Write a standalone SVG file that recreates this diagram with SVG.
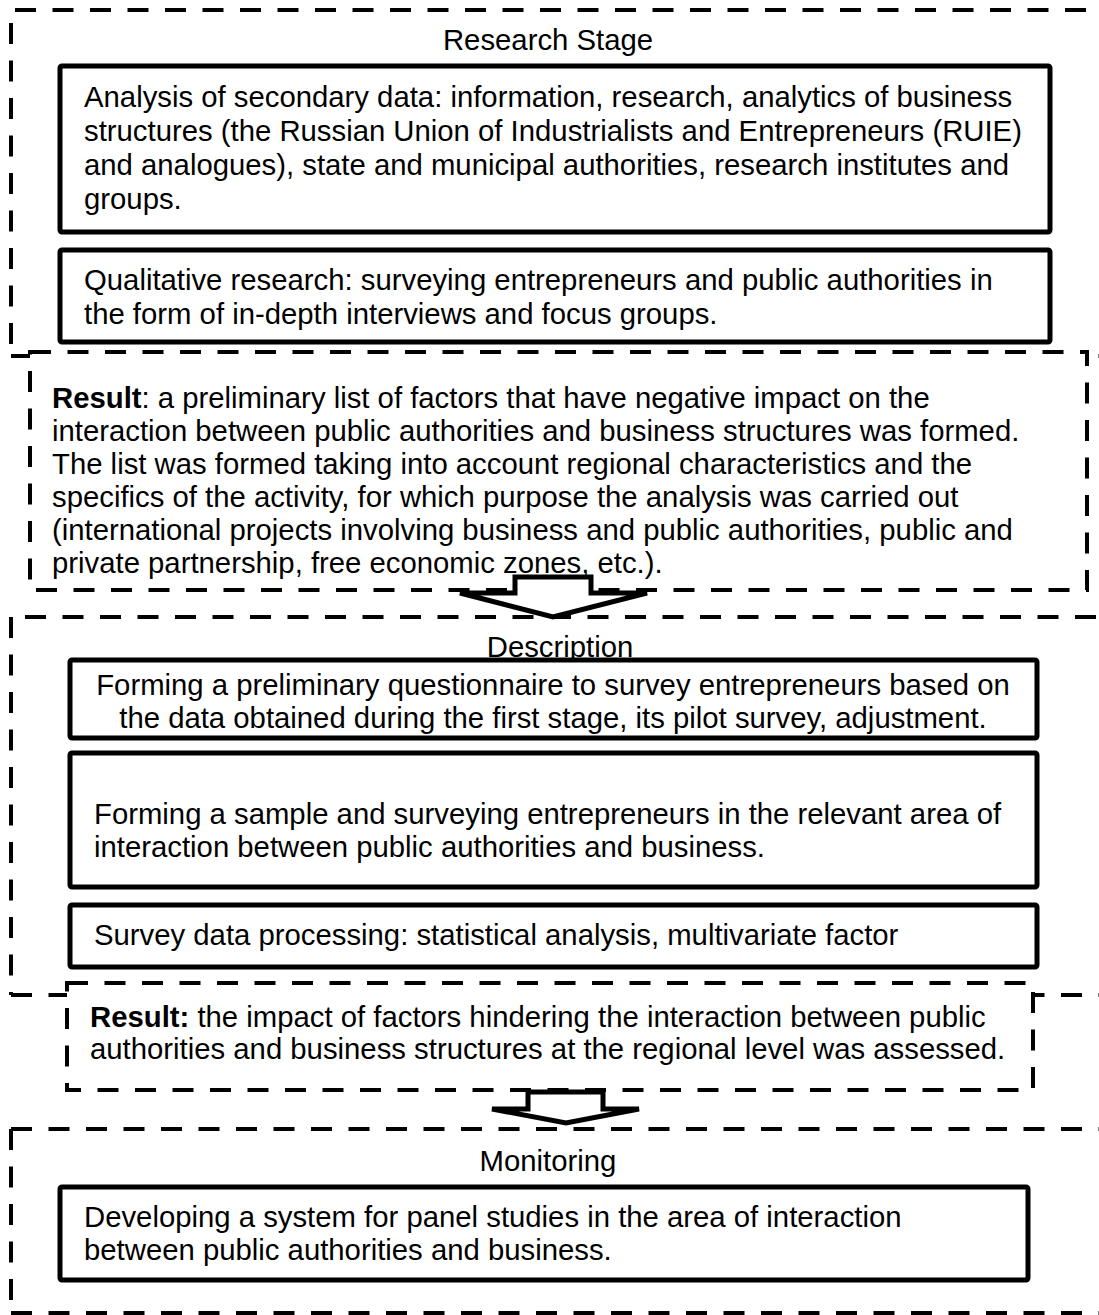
<svg xmlns="http://www.w3.org/2000/svg" width="1099" height="1315" viewBox="0 0 1099 1315">
<style>
.dash{fill:none;stroke:#000;stroke-width:4;stroke-dasharray:21 16.5}
.dashw{fill:#fff;stroke:#000;stroke-width:4;stroke-dasharray:21 16.5}
.box{fill:#fff;stroke:#000;stroke-width:5}
.t{font-family:"Liberation Sans",Arial,sans-serif;font-size:29.3px;fill:#000}
.c{text-anchor:middle}
.b{font-weight:bold}
.arrow{fill:#fff;stroke:#000;stroke-width:5;stroke-linejoin:miter}
</style>
<rect width="1099" height="1315" fill="#fff"/>
<g id="research-stage">
<path class="dash" d="M11,10 H1099" stroke-dashoffset="-4"/>
<path class="dash" d="M11,10 V356" stroke-dashoffset="24.5"/>
<path class="dash" d="M11,356 H1099"/>
<text class="t c" x="548" y="50">Research Stage</text>
</g>
<g id="analysis">
<rect class="box" x="60" y="66" width="990" height="166" rx="2"/>
<text class="t" x="84" y="107">Analysis of secondary data: information, research, analytics of business</text>
<text class="t" x="84" y="141">structures (the Russian Union of Industrialists and Entrepreneurs (RUIE)</text>
<text class="t" x="84" y="175">and analogues), state and municipal authorities, research institutes and</text>
<text class="t" x="84" y="209">groups.</text>
</g>
<g id="qualitative">
<rect class="box" x="60" y="250" width="990" height="92" rx="2"/>
<text class="t" x="84" y="290">Qualitative research: surveying entrepreneurs and public authorities in</text>
<text class="t" x="84" y="324">the form of in-depth interviews and focus groups.</text>
</g>
<g id="result-1">
<rect class="dashw" x="30" y="352" width="1057" height="238"/>
<text class="t" x="52" y="408"><tspan class="b">Result</tspan>: a preliminary list of factors that have negative impact on the</text>
<text class="t" x="52" y="441">interaction between public authorities and business structures was formed.</text>
<text class="t" x="52" y="474">The list was formed taking into account regional characteristics and the</text>
<text class="t" x="52" y="507">specifics of the activity, for which purpose the analysis was carried out</text>
<text class="t" x="52" y="540">(international projects involving business and public authorities, public and</text>
<text class="t" x="52" y="573">private partnership, free economic zones, etc.).</text>
</g>
<g id="description">
<path class="dash" d="M11,617 H1099" stroke-dashoffset="-14"/>
<path class="dash" d="M11,617 V995"/>
<path class="dash" d="M11,995 H1099"/>
<text class="t c" x="560" y="657">Description</text>
</g>
<g id="questionnaire">
<rect class="box" x="70" y="660" width="967" height="78" rx="2"/>
<text class="t c" x="553" y="695">Forming a preliminary questionnaire to survey entrepreneurs based on</text>
<text class="t c" x="553" y="728">the data obtained during the first stage, its pilot survey, adjustment.</text>
</g>
<g id="sample">
<rect class="box" x="70" y="753" width="967" height="134" rx="2"/>
<text class="t" x="94" y="824">Forming a sample and surveying entrepreneurs in the relevant area of</text>
<text class="t" x="94" y="857">interaction between public authorities and business.</text>
</g>
<g id="processing">
<rect class="box" x="70" y="905" width="967" height="62" rx="2"/>
<text class="t" x="94" y="945">Survey data processing: statistical analysis, multivariate factor</text>
</g>
<g id="result-2">
<rect class="dashw" x="67" y="983" width="966" height="107"/>
<text class="t" x="90" y="1027"><tspan class="b">Result:</tspan> the impact of factors hindering the interaction between public</text>
<text class="t" x="90" y="1059">authorities and business structures at the regional level was assessed.</text>
</g>
<g id="monitoring">
<path class="dash" d="M11,1129 H1099"/>
<path class="dash" d="M11,1129 V1313"/>
<path class="dash" d="M11,1313 H1099"/>
<text class="t c" x="548" y="1171">Monitoring</text>
</g>
<g id="panel">
<rect class="box" x="60" y="1187" width="968" height="93" rx="2"/>
<text class="t" x="84" y="1227">Developing a system for panel studies in the area of interaction</text>
<text class="t" x="84" y="1260">between public authorities and business.</text>
</g>
<g id="connectors">
<polygon class="arrow" points="515,577 591,577 591,593 647,593 553,617 460,593 515,593"/>
<polygon class="arrow" points="528,1092 603,1092 603,1109 639,1109 566,1123 492,1109 528,1109"/>
</g>
</svg>
